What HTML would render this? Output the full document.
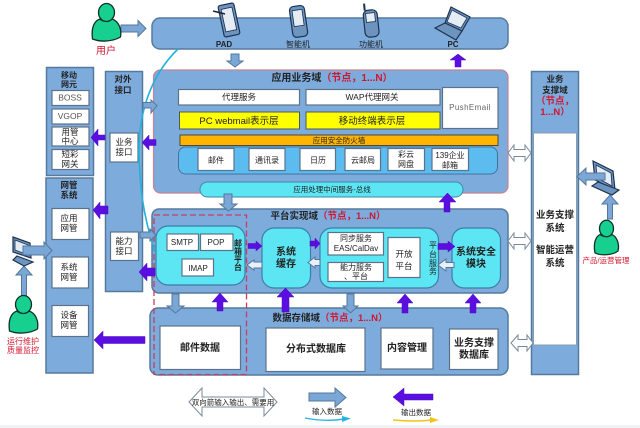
<!DOCTYPE html>
<html><head><meta charset="utf-8"><style>
html,body{margin:0;padding:0;background:#fff;width:640px;height:428px;overflow:hidden}
svg{display:block;filter:blur(.35px)}
text{font-family:"Liberation Sans","Noto Sans CJK SC",sans-serif;text-anchor:middle;fill:#222}
.b{font-weight:bold}
.dom{fill:#7dabdc;stroke:#567a9e;stroke-width:1.5}
.w{fill:#fff;stroke:#5c7288;stroke-width:1.2}
.c{fill:#5ce6f4;stroke:#3e7ea6;stroke-width:1.2}
.ab{fill:#7ba7d7;stroke:#55779c;stroke-width:1}
.ap{fill:#5a0fe0;stroke:#4a0cc0;stroke-width:.5}
.aw{fill:#fff;stroke:#7a8a9a;stroke-width:1}
.ah{fill:#e8f0fa;stroke:#55779c;stroke-width:1}
.p{fill:#17d08f;stroke:#10302a;stroke-width:1.3}
.dev{fill:#6d93bf;stroke:#1c3350;stroke-width:1.2}
.scr{fill:#e5ecf4;stroke:#1c3350;stroke-width:.8}
</style></head><body>
<svg width="640" height="428" viewBox="0 0 640 428" xmlns="http://www.w3.org/2000/svg">
<rect x="0" y="425" width="640" height="3" fill="#f0f1f2"/>

<!-- left columns -->
<rect class="dom" x="46.500" y="67.500" width="47" height="108"/>
<rect class="dom" x="46" y="178" width="47" height="195"/>
<rect class="dom" x="105.500" y="71.500" width="37" height="220"/>
<!-- right column -->
<rect class="dom" x="531.500" y="71.500" width="47" height="303"/>
<rect x="533.500" y="133" width="43" height="212" fill="#fff" stroke="#8a9cae" stroke-width="1"/>

<!-- main domains -->
<rect class="dom" x="152" y="18" width="356" height="31" rx="8"/>
<rect x="153.500" y="70" width="354.500" height="123" rx="7" fill="#7dabdc" stroke="#c78296" stroke-width="1.2"/>
<rect class="dom" x="152" y="209" width="356" height="84" rx="7"/>
<rect class="dom" x="150" y="308" width="358" height="67" rx="8"/>

<!-- app domain content -->
<rect class="w" x="178.500" y="89.500" width="121" height="15.500"/>
<rect class="w" x="306" y="89.500" width="134" height="15.500"/>
<rect class="w" x="442.500" y="87.500" width="55.500" height="41"/>
<rect x="179.500" y="112" width="120" height="17" fill="#ffff00" stroke="#4b5a60" stroke-width="1"/>
<rect x="306" y="112" width="134" height="17" fill="#ffff00" stroke="#4b5a60" stroke-width="1"/>
<rect x="180" y="135" width="318" height="10.500" fill="#ffb400" stroke="#4a4a3a" stroke-width="1"/>
<rect x="178.500" y="147" width="319" height="27" rx="7" fill="#5cbcf0" stroke="#42739f" stroke-width="1"/>
<rect class="w" x="198" y="148.500" width="36" height="22"/>
<rect class="w" x="249" y="148.500" width="36" height="22"/>
<rect class="w" x="300" y="148.500" width="35.500" height="22"/>
<rect class="w" x="345" y="148.500" width="35.500" height="22"/>
<rect class="w" x="388" y="148.500" width="36.500" height="22"/>
<rect class="w" x="432" y="148.500" width="36.500" height="22"/>
<rect x="200" y="182" width="263" height="15" rx="7.500" fill="#5ce6f4" stroke="#3e8aa6" stroke-width="1"/>

<!-- platform content -->
<rect class="c" x="156" y="226" width="89" height="59" rx="12"/>
<rect class="w" x="167" y="234" width="31.500" height="16.500"/>
<rect class="w" x="200.500" y="234" width="32.500" height="16.500"/>
<rect class="w" x="182" y="259" width="31.500" height="17"/>
<rect class="c" x="262" y="228" width="48.500" height="60" rx="12"/>
<rect class="c" x="320" y="228" width="118.500" height="60" rx="12"/>
<rect class="w" x="328" y="232.500" width="55.500" height="22.500"/>
<rect class="w" x="328" y="262.500" width="55.500" height="19"/>
<rect class="w" x="388" y="237.500" width="32" height="40"/>
<rect class="c" x="452" y="228" width="48.500" height="60" rx="12"/>

<!-- storage content -->
<rect class="w" x="160" y="326" width="80.500" height="43.500"/>
<rect class="w" x="266" y="328" width="99" height="43.500"/>
<rect class="w" x="381" y="328" width="52" height="41"/>
<rect class="w" x="449.500" y="329" width="48.500" height="40.500"/>

<!-- left/right inner boxes -->
<rect class="w" x="52" y="90.500" width="37" height="15"/>
<rect class="w" x="52" y="109" width="37" height="15"/>
<rect class="w" x="52" y="127" width="37" height="19"/>
<rect class="w" x="52" y="149.500" width="37" height="20"/>
<rect class="w" x="52" y="208.500" width="37" height="31"/>
<rect class="w" x="52" y="257" width="36.500" height="31"/>
<rect class="w" x="52" y="305.500" width="36.500" height="31"/>
<rect class="w" x="110" y="133" width="28" height="29"/>
<rect class="w" x="110.500" y="232" width="28" height="28.500"/>

<!-- dashed -->
<rect x="154" y="215" width="92.500" height="159.500" fill="none" stroke="#c93c62" stroke-width="1.3" stroke-dasharray="6 3"/>

<!-- curve -->
<path d="M178 49C150 76 138 115 139 155C140 185 142 212 155 252" fill="none" stroke="#22b2dc" stroke-width="1.6"/>

<!-- blue arrows -->
<polygon class="ab" points="121,25 138,25 138,20.500 146,28.500 138,36.500 138,32 121,32"/>
<polygon class="ab" points="231,54 239,54 239,61 243,61 235,67 227,61 231,61"/>
<polygon class="ab" points="143,102.500 151,102.500 151,100 157,105.500 151,113 151,108 143,108"/>
<polygon class="ab" points="224,194 232,194 232,204 237,204 228.500,211 220,204 224,204"/>
<polygon class="ab" points="140,232 150,232 150,229 156,235 150,241 150,238 140,238"/>
<polygon class="ab" points="172,294 179,294 179,306 184,306 175.500,313 167,306 172,306"/>
<polygon class="ab" points="347,294 354,294 354,306 358,306 350.500,313 343,306 347,306"/>
<polygon class="ah" points="262,262 254,262 254,260 247,265 254,270 254,268 262,268"/>
<polygon class="ah" points="320,259.500 315,259.500 315,257 308,262.500 315,268 315,265.500 320,265.500"/>
<polygon class="ah" points="454,262.500 446,262.500 446,259 438,265 446,271 446,267.500 454,267.500"/>
<polygon class="ab" points="21.500,297 26.500,297 26.500,275 32,275 24,266 16,275 21.500,275"/>
<polygon class="ab" points="607.500,219 612.500,219 612.500,204 618,204 610,195 602,204 607.500,204"/>

<!-- purple arrows -->
<polygon class="ap" points="455,67 461,67 461,60 466,60 458,54 450,60 455,60"/>
<polygon class="ap" points="444,212 450,212 450,202 456,202 447.500,193 439,202 444,202"/>
<polygon class="ap" points="156,139.500 149,139.500 149,135 142,142.500 149,150 149,145.500 156,145.500"/>
<polygon class="ap" points="105,135 98,135 98,129 91,137.500 98,146 98,140 105,140"/>
<polygon class="ap" points="108,206 100,206 100,202 93,210 100,219 100,214 108,214"/>
<polygon class="ap" points="155,268 147,268 147,263 139,272 147,281 147,276 155,276"/>
<polygon class="ap" points="145,336.500 103,336.500 103,331 94,340 103,349 103,343.500 145,343.500"/>
<polygon class="ap" points="217,311 223,311 223,302 228,302 220,293 212,302 217,302"/>
<polygon class="ap" points="282,312 289,312 289,297 294,297 285.500,288 277,297 282,297"/>
<polygon class="ap" points="402,313 408,313 408,303 413,303 405,294 397,303 402,303"/>
<polygon class="ap" points="470,313 476,313 476,303 481,303 473,294 465,303 470,303"/>
<polygon class="ap" points="248,243.500 256,243.500 256,241 262,246 256,251 256,248.500 248,248.500"/>
<polygon class="ap" points="310,241 315,241 315,238 320,243.500 315,249 315,246 310,246"/>
<polygon class="ap" points="438,243.500 448,243.500 448,241 455,246.500 448,252 448,249.500 438,249.500"/>

<!-- white double arrows -->
<polygon class="aw" points="508,153 514,145 514,149.500 525,149.500 525,145 531,153 525,161 525,156.500 514,156.500 514,161"/>
<polygon class="aw" points="508,241 514,233 514,237.500 525,237.500 525,233 531,241 525,249 525,244.500 514,244.500 514,249"/>
<polygon class="aw" points="511,343 518,335 518,339.500 527,339.500 527,335 533,343 527,351 527,346.500 518,346.500 518,351"/>
<polygon class="aw" points="189,402 202,388 202,397 264,397 264,388 277,402 264,416 264,407 202,407 202,416"/>

<!-- legend -->
<polygon class="ab" points="309,393 335,393 335,388 346,397.500 335,407 335,401 309,401"/>
<polygon class="ap" points="433,394 404,394 404,388 393,397 404,406 404,400 433,400"/>
<path d="M305 418Q325 422 344 419" fill="none" stroke="#28b4e0" stroke-width="1.4"/>
<polygon points="342,416 351,418.500 342,422" fill="#28b4e0"/>
<path d="M393 420Q415 422 432 420" fill="none" stroke="#f2c419" stroke-width="1.4"/>
<polygon points="430,417 439,420 430,423" fill="#f2c419"/>

<!-- persons -->
<g>
<path class="p" d="M92.500 39C91 28 94 21 100 19C103 22 109 22 112 19C118 21 122 28 120.500 37C112 42 100 42 92.500 39Z"/>
<ellipse class="p" cx="106.500" cy="12.500" rx="8" ry="9"/>
</g>
<g transform="translate(-83 292)">
<path class="p" d="M92.500 39C91 28 94 21 100 19C103 22 109 22 112 19C118 21 122 28 120.500 37C112 42 100 42 92.500 39Z"/>
<ellipse class="p" cx="106.500" cy="12.500" rx="8" ry="9"/>
</g>
<g transform="translate(500 217) scale(1 .92)">
<path class="p" d="M95 39C93 28 96 21 100 19C103 22 109 22 112 19C116 21 120 28 118 37C112 42 100 42 95 39Z"/>
<ellipse class="p" cx="106.500" cy="12.500" rx="7" ry="9"/>
</g>

<!-- devices -->
<g transform="rotate(-12 229 20)">
<rect class="dev" x="221" y="4" width="16" height="32" rx="2"/>
<rect class="scr" x="223.500" y="8" width="11" height="23"/>
</g>
<path d="M213 11L225 14" stroke="#223" stroke-width="1.500"/>
<g transform="rotate(-8 298 21)">
<rect class="dev" x="291" y="6" width="15" height="31" rx="4"/>
<rect class="scr" x="293.500" y="10" width="10" height="16"/>
</g>
<g transform="rotate(-6 371 22)">
<rect class="dev" x="364" y="10" width="14" height="27" rx="5"/>
<rect class="scr" x="366.500" y="13" width="9" height="9"/>
<line x1="366" y1="10" x2="366" y2="3" stroke="#1c3350" stroke-width="2"/>
</g>
<polygon class="dev" points="451,7 470,17 462,31 445,23"/>
<polygon class="scr" points="452,10 467,18 461,28 447,22"/>
<polygon class="dev" points="445,23 462,31 456,40 435,28"/>

<!-- terminals -->
<g>
<polygon class="dev" points="13,237 30,243 31,258 13,252"/>
<polygon class="scr" points="15,240 28,245 28,255 15,250"/>
<polygon class="dev" points="17,256 33,262 24,266 13,260"/>
</g>
<g>
<polygon class="dev" points="593,161 613,171 615,190 595,180"/>
<polygon class="scr" points="596,165 611,173 612,186 597,178"/>
<polygon class="dev" points="598,182 619,190 612,195 592,186"/>
</g>
<polygon class="ab" points="605,173 586,173 586,168 577,176.500 586,185 586,180 605,180"/>
<polygon class="ab" points="23,246 44,246 44,242 52,250.500 44,259 44,255 23,255"/>

<!-- labels -->
<text x="106" y="54" font-size="10" style="fill:#d2152f">用户</text>
<text x="224" y="47" font-size="8" class="b">PAD</text>
<text x="298" y="47" font-size="8">智能机</text>
<text x="371" y="47" font-size="8">功能机</text>
<text x="453" y="47" font-size="8" class="b">PC</text>

<text font-size="8" class="b"><tspan x="69" y="78">移动</tspan><tspan x="69" y="87">网元</tspan></text>
<text x="70" y="100.500" font-size="8.500" style="fill:#555">BOSS</text>
<text x="70" y="119" font-size="8.500" style="fill:#555">VGOP</text>
<text font-size="8.500"><tspan x="70" y="135">用管</tspan><tspan x="70" y="144">中心</tspan></text>
<text font-size="8.500"><tspan x="70" y="157">短彩</tspan><tspan x="70" y="167">网关</tspan></text>
<text font-size="8.500" class="b"><tspan x="69" y="188">网管</tspan><tspan x="69" y="198">系统</tspan></text>
<text font-size="8.500"><tspan x="69" y="221">应用</tspan><tspan x="69" y="231">网管</tspan></text>
<text font-size="8.500"><tspan x="69" y="270">系统</tspan><tspan x="69" y="280">网管</tspan></text>
<text font-size="8.500"><tspan x="69" y="318">设备</tspan><tspan x="69" y="328">网管</tspan></text>
<text font-size="8.500" class="b"><tspan x="123" y="82">对外</tspan><tspan x="123" y="93">接口</tspan></text>
<text font-size="8.500"><tspan x="124" y="145">业务</tspan><tspan x="124" y="155">接口</tspan></text>
<text font-size="8.500"><tspan x="124" y="244">能力</tspan><tspan x="124" y="254">接口</tspan></text>
<text font-size="8" style="fill:#d2152f"><tspan x="23" y="344">运行维护</tspan><tspan x="23" y="353">质量监控</tspan></text>

<text x="332" y="81" font-size="10" class="b">应用业务域<tspan style="fill:#d2152f">（节点，1...N）</tspan></text>
<text x="239" y="100" font-size="8.500">代理服务</text>
<text x="372" y="100" font-size="8.500">WAP代理网关</text>
<text x="470" y="110" font-size="8" style="fill:#666" letter-spacing=".4">PushEmail</text>
<text x="239" y="124" font-size="9.500">PC webmail表示层</text>
<text x="372" y="124" font-size="9.500">移动终端表示层</text>
<text x="339" y="143" font-size="7.500">应用安全防火墙</text>
<text x="216" y="163" font-size="8">邮件</text>
<text x="267" y="163" font-size="8">通讯录</text>
<text x="318" y="163" font-size="8">日历</text>
<text x="363" y="163" font-size="8">云邮局</text>
<text font-size="8"><tspan x="406" y="157">彩云</tspan><tspan x="406" y="167">网盘</tspan></text>
<text font-size="8"><tspan x="450" y="158">139企业</tspan><tspan x="450" y="168">邮箱</tspan></text>
<text x="332" y="192" font-size="7.500">应用处理中间服务-总线</text>

<text x="328" y="219" font-size="9.500" class="b">平台实现域<tspan style="fill:#d2152f">（节点，1...N）</tspan></text>
<text x="182" y="245" font-size="8">SMTP</text>
<text x="216" y="245" font-size="8">POP</text>
<text x="198" y="271" font-size="8">IMAP</text>
<text font-size="8" class="b"><tspan x="238" y="246">邮</tspan><tspan x="238" y="254">箱</tspan><tspan x="238" y="262">平</tspan><tspan x="238" y="270">台</tspan></text>
<text font-size="10" class="b"><tspan x="286" y="255">系统</tspan><tspan x="286" y="267">缓存</tspan></text>
<text font-size="8"><tspan x="356" y="241">同步服务</tspan><tspan x="356" y="251">EAS/CalDav</tspan></text>
<text font-size="8"><tspan x="356" y="270">能力服务</tspan><tspan x="356" y="279">、平台</tspan></text>
<text font-size="8.500"><tspan x="404" y="257">开放</tspan><tspan x="404" y="269">平台</tspan></text>
<text font-size="8"><tspan x="433" y="248">平</tspan><tspan x="433" y="257">台</tspan><tspan x="433" y="266">服</tspan><tspan x="433" y="274">务</tspan></text>
<text font-size="10" class="b"><tspan x="476" y="255">系统安全</tspan><tspan x="476" y="267">模块</tspan></text>

<text x="330" y="321" font-size="9.500" class="b">数据存储域<tspan style="fill:#d2152f">（节点，1...N）</tspan></text>
<text x="200" y="351" font-size="10" class="b">邮件数据</text>
<text x="316" y="352" font-size="10" class="b">分布式数据库</text>
<text x="407" y="351" font-size="10" class="b">内容管理</text>
<text font-size="10" class="b"><tspan x="474" y="346">业务支撑</tspan><tspan x="474" y="358">数据库</tspan></text>

<text font-size="8.500" class="b"><tspan x="555" y="82">业务</tspan><tspan x="555" y="93">支撑域</tspan></text>
<text font-size="9.500" style="fill:#d2152f;font-weight:bold"><tspan x="555" y="104">（节点，</tspan><tspan x="555" y="115">1...N）</tspan></text>
<text font-size="9.500" class="b"><tspan x="555" y="218">业务支撑</tspan><tspan x="555" y="231">系统</tspan><tspan x="555" y="253">智能运营</tspan><tspan x="555" y="266">系统</tspan></text>
<text x="606" y="263" font-size="7.500" style="fill:#d2152f">产品/运营管理</text>

<text x="233" y="405" font-size="7.500">双向箭输入输出、需要用</text>
<text x="327" y="414" font-size="7.500">输入数据</text>
<text x="416" y="415" font-size="7.500">输出数据</text>
</svg>
</body></html>
